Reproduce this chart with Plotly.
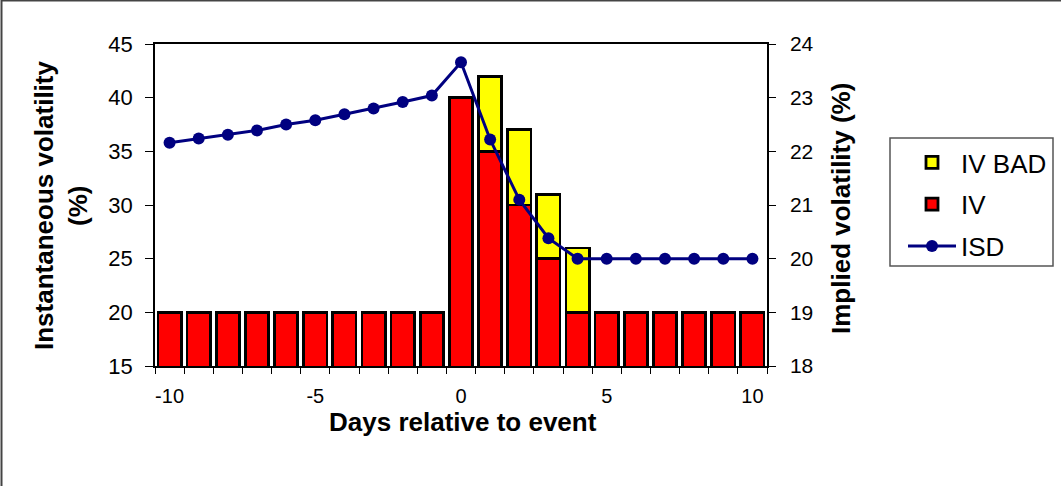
import plotly.graph_objects as go
from plotly.subplots import make_subplots

days = list(range(-10, 11))
iv = [20, 20, 20, 20, 20, 20, 20, 20, 20, 20, 40, 35, 30, 25, 20, 20, 20, 20, 20, 20, 20]
iv_bad = [None] * 11 + [7, 7, 6, 6] + [None] * 6
isd = [22.16, 22.24, 22.31, 22.39, 22.5, 22.58, 22.69, 22.8, 22.92, 23.04, 23.66,
       22.22, 21.1, 20.38, 20.0, 20.0, 20.0, 20.0, 20.0, 20.0, 20.0]
x_ticks = [-10, -5, 0, 5, 10]
x_labels = ["-10", "-5", "0", "5", "10"]
left_ticks = [15, 20, 25, 30, 35, 40, 45]
right_ticks = [18, 19, 20, 21, 22, 23, 24]

FONT = "Liberation Sans, Arial, sans-serif"
W, H = 1061, 486
L, R, T, B = 155, 767, 44, 366
PW, PH = R - L, B - T


def px_x(p):
    return (p - L) / PW


def px_y(p):
    return (B - p) / PH


fig = make_subplots(specs=[[{"secondary_y": True}]])

fig.add_trace(go.Bar(x=days, y=iv, name="IV", width=0.8,
                     marker=dict(color="#FF0000", line=dict(color="black", width=2.8)),
                     legendrank=2, legendgroup="b"), secondary_y=False)
fig.add_trace(go.Bar(x=days, y=iv_bad, name="IV BAD", width=0.8,
                     marker=dict(color="#FFFF00", line=dict(color="black", width=2.8)),
                     legendrank=1, legendgroup="a"), secondary_y=False)
fig.add_trace(go.Scatter(x=days, y=isd, name="ISD", mode="lines+markers",
                         line=dict(color="#000080", width=3),
                         marker=dict(color="#000080", size=12),
                         cliponaxis=False, legendrank=3, legendgroup="c"),
              secondary_y=True)

fig.update_layout(
    width=W, height=H,
    margin=dict(l=L, r=W - R, t=T, b=H - B, pad=0, autoexpand=False),
    paper_bgcolor="white", plot_bgcolor="white",
    barmode="stack",
    font=dict(family=FONT, size=20, color="black"),
    legend=dict(x=px_x(903), y=px_y(139), xanchor="left", yanchor="top",
                borderwidth=0, bgcolor="rgba(0,0,0,0)",
                font=dict(size=26), traceorder="grouped", tracegroupgap=5,
                itemwidth=48),
    showlegend=True,
)

fig.update_xaxes(domain=[0, 1], range=[-10.5, 10.5], tickvals=x_ticks, ticktext=x_labels,
                 ticks="", showline=True, linecolor="black", linewidth=1.5, mirror=True,
                 showgrid=False, zeroline=False,
                 tickfont=dict(size=20), ticklabelstandoff=11,
                 minor=dict(ticks="outside", tick0=-10.5, dtick=1, ticklen=6,
                            tickcolor="black", tickwidth=1, showgrid=False))
fig.update_yaxes(range=[15, 45], tickvals=left_ticks, ticks="outside", ticklen=8,
                 tickcolor="black", showline=True, linecolor="black", linewidth=1.5,
                 showgrid=False, zeroline=False, tickfont=dict(size=22),
                 ticklabelstandoff=8, secondary_y=False)
fig.update_yaxes(range=[18, 24], tickvals=right_ticks, ticks="outside", ticklen=7,
                 tickcolor="black", showline=True, linecolor="black", linewidth=1.5,
                 showgrid=False, zeroline=False, tickfont=dict(size=21),
                 ticklabelstandoff=10, secondary_y=True)

ann = [
    dict(text="<b>Days relative to event</b>", x=px_x(463), y=px_y(422)),
    dict(text="<b>Instantaneous volatility</b>", x=px_x(44), y=px_y(206), textangle=-90),
    dict(text="<b>(%)</b>", x=px_x(78), y=px_y(206), textangle=-90),
    dict(text="<b>Implied volatility (%)</b>", x=px_x(841), y=px_y(209), textangle=-90),
]
for a in ann:
    fig.add_annotation(xref="paper", yref="paper", showarrow=False,
                       xanchor="center", yanchor="middle",
                       font=dict(size=26, family=FONT, color="black"), **a)

# legend frame
fig.add_shape(type="rect", xref="paper", yref="paper",
              x0=px_x(890), x1=px_x(1053), y0=px_y(266), y1=px_y(138),
              line=dict(color="#555555", width=1.5), fillcolor="rgba(0,0,0,0)",
              layer="below")
# chart area border
fig.add_shape(type="rect", xref="paper", yref="paper",
              x0=px_x(1.5), x1=px_x(1070), y0=px_y(495), y1=px_y(0.5),
              line=dict(color="#444444", width=2), fillcolor="rgba(0,0,0,0)")

fig.write_html("out.html")
